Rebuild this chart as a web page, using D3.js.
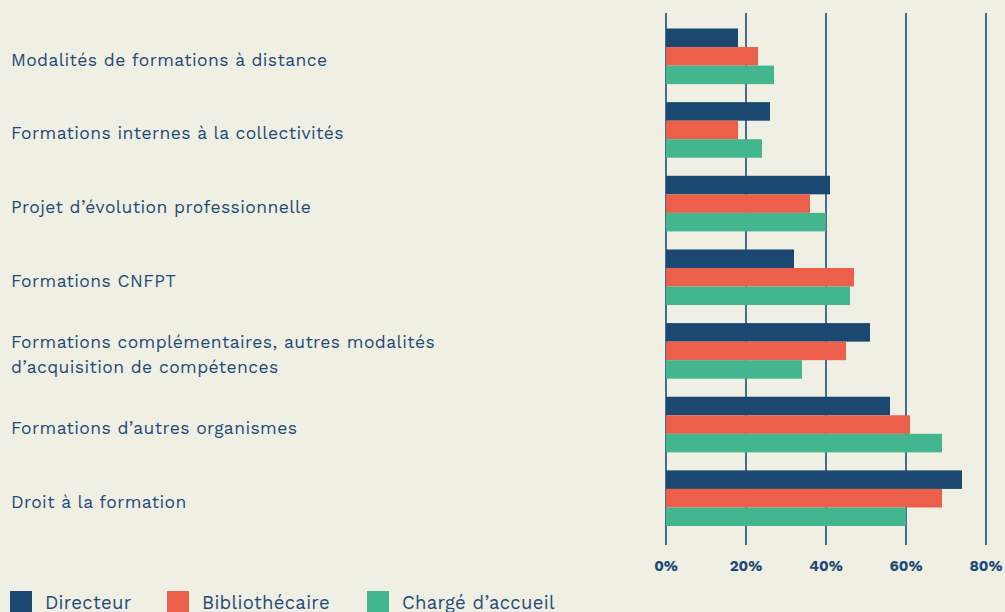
<!DOCTYPE html>
<html lang="fr">
<head>
<meta charset="utf-8">
<script src="https://cdn.jsdelivr.net/npm/d3@7"></script>
<style>
  html, body { margin: 0; padding: 0; background: #f0efe3; }
  svg { display: block; }
</style>
</head>
<body>
<svg id="chart" width="1005" height="612"></svg>
<script>
// Categories (top to bottom) and the share of each role, in percent
const categories = [
  ["Modalités de formations à distance"],
  ["Formations internes à la collectivités"],
  ["Projet d’évolution professionnelle"],
  ["Formations CNFPT"],
  ["Formations complémentaires, autres modalités", "d’acquisition de compétences"],
  ["Formations d’autres organismes"],
  ["Droit à la formation"]
];
const seriesNames = ["Directeur", "Bibliothécaire", "Chargé d’accueil"];
const directeur      = [18, 26, 41, 32, 51, 56, 74];
const bibliothecaire = [23, 18, 36, 47, 45, 61, 69];
const chargeAccueil  = [27, 24, 40, 46, 34, 69, 60];
const tickValues = [0, 20, 40, 60, 80];

const colors = ["#1b4870", "#ec5f4b", "#44b68f"];
const ink = "#1f4a78";
const font = "'Work Sans', 'Open Sans', sans-serif";

const seriesValues = [directeur, bibliothecaire, chargeAccueil];
const svg = d3.select("#chart");

const x = d3.scaleLinear().domain([0, 80]).range([666, 986]);
const y = d3.scaleBand().domain(d3.range(categories.length)).range([28.5, 526]).paddingInner(0.245);
const ySub = d3.scaleBand().domain(d3.range(seriesNames.length)).range([0, y.bandwidth()]);

// vertical grid lines with tick marks
const grid = svg.append("g");
grid.selectAll("line").data(tickValues).join("line")
  .attr("x1", d => x(d)).attr("x2", d => x(d))
  .attr("y1", 13).attr("y2", 545)
  .attr("stroke", ink).attr("stroke-width", 1.6);

// bars
const groups = svg.append("g").selectAll("g").data(categories).join("g")
  .attr("transform", (d, i) => `translate(0,${y(i)})`);
groups.selectAll("rect")
  .data((d, i) => seriesValues.map((s, k) => ({ k, v: s[i] })))
  .join("rect")
  .attr("x", x(0))
  .attr("y", d => ySub(d.k))
  .attr("width", d => x(d.v) - x(0))
  .attr("height", ySub.bandwidth())
  .attr("fill", d => colors[d.k]);

// category labels, vertically centred on their group
const lineGap = 25;
const labels = svg.append("g").selectAll("text").data(categories).join("text")
  .attr("fill", ink)
  .style("font-family", font)
  .style("font-size", "17.5px")
  .style("letter-spacing", "0.4px");
labels.selectAll("tspan")
  .data((d, i) => d.map((t, j) => ({ t, yy: y(i) + y.bandwidth() / 2 + 9.4 + (j - (d.length - 1) / 2) * lineGap })))
  .join("tspan")
  .attr("x", 11)
  .attr("y", d => d.yy)
  .text(d => d.t);

// x axis labels
svg.append("g").selectAll("text").data(tickValues).join("text")
  .attr("x", d => x(d))
  .attr("y", 571)
  .attr("text-anchor", "middle")
  .attr("fill", ink)
  .style("font-family", font)
  .style("font-size", "15px")
  .style("font-weight", "700")
  .text(d => d + "%");

// legend
const legendX = [10, 167, 367];
const legend = svg.append("g").selectAll("g").data(seriesNames).join("g")
  .attr("transform", (d, i) => `translate(${legendX[i]},591)`);
legend.append("rect").attr("width", 22).attr("height", 22).attr("fill", (d, i) => colors[i]);
legend.append("text")
  .attr("x", 35).attr("y", 18)
  .attr("fill", ink)
  .style("font-family", font)
  .style("font-size", "18.5px")
  .style("letter-spacing", "0.3px")
  .text(d => d);
</script>
</body>
</html>
